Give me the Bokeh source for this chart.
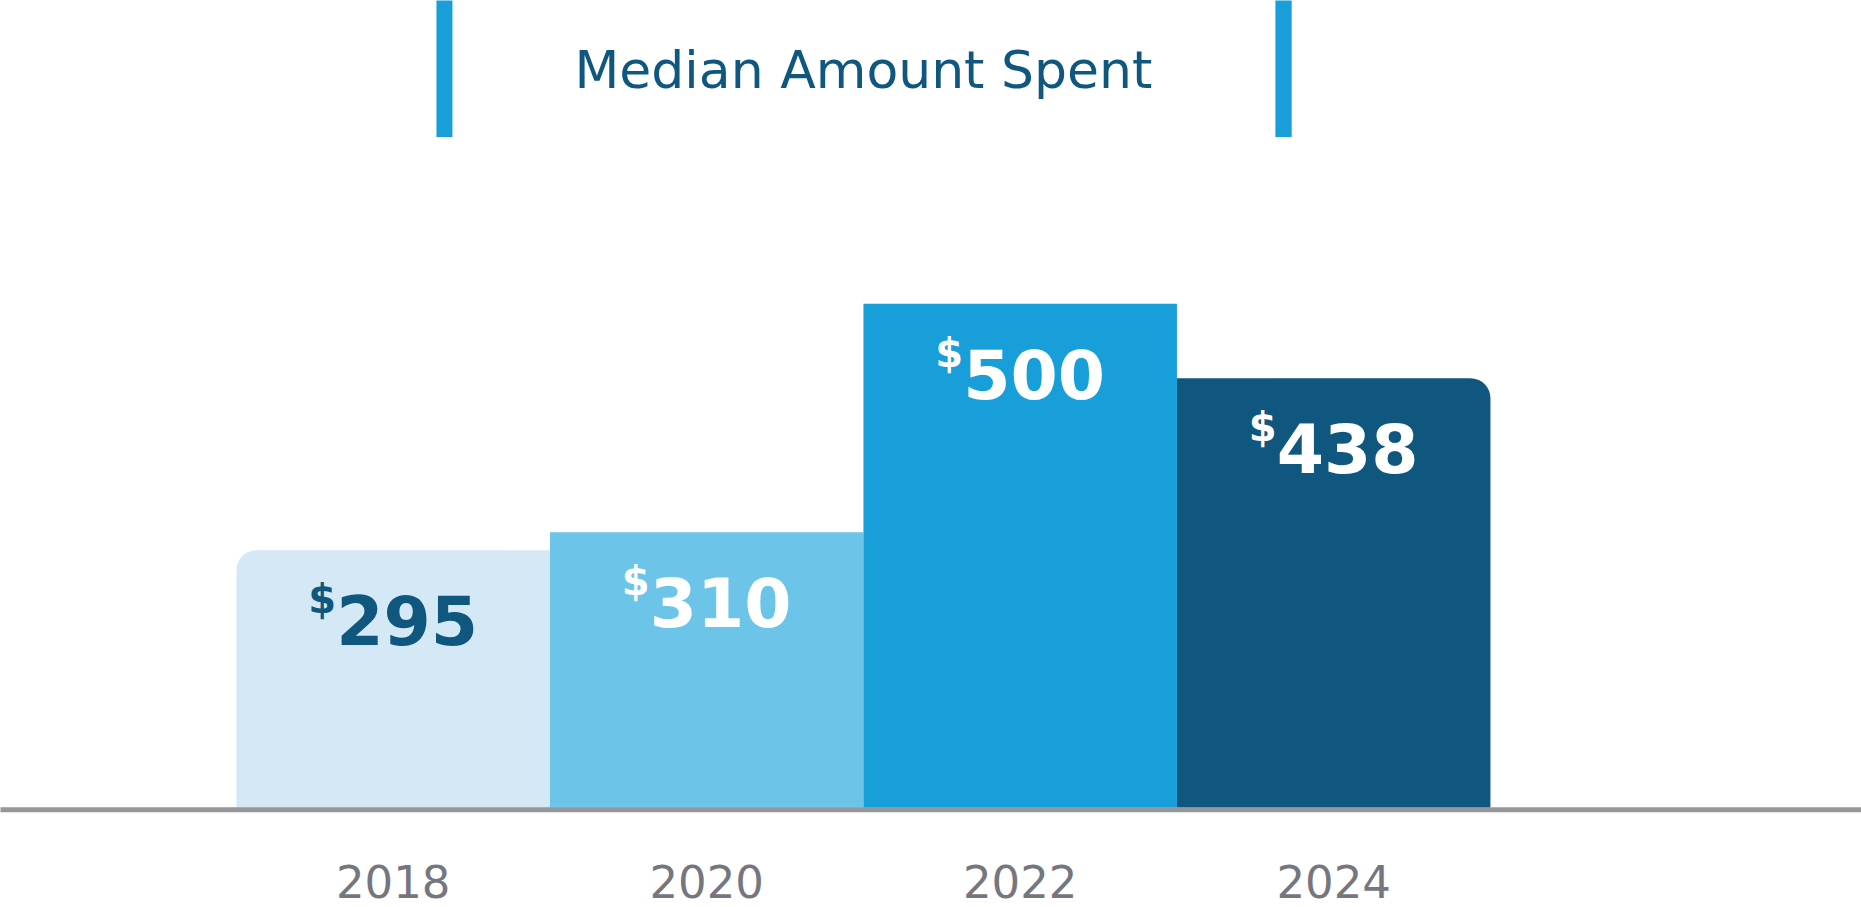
from bokeh.plotting import figure
from bokeh.models import ColumnDataSource, Span, Range1d
from bokeh.embed import file_html
from bokeh.resources import INLINE
from bokeh.core.properties import value

# ---- data ----
years = ["2018", "2020", "2022", "2024"]
amounts = [295, 310, 500, 438]
amount_labels = ["295", "310", "500", "438"]
bar_colors = ["#d4e8f5", "#6cc4e9", "#189fd9", "#10577f"]
label_colors = ["#10577f", "#ffffff", "#ffffff", "#ffffff"]
title_text = "Median Amount Spent"

# ---- layout ----
W, H = 1861, 907
X0 = -1.2526
X1 = X0 + W / 313.5
Y_START, Y_END = -2, 752
BASE = 81
PX = H / (Y_END - Y_START)
FONT = value("DejaVu Sans")

p = figure(width=W, height=H, output_backend="svg", toolbar_location=None,
           x_range=Range1d(X0, X1), y_range=Range1d(Y_START, Y_END),
           min_border=0, outline_line_color=None)
p.axis.visible = False
p.grid.visible = False
p.background_fill_color = "white"
p.border_fill_color = "white"

xs = list(range(len(years)))
src = ColumnDataSource(dict(x=xs, top=amounts, year=years, lab=amount_labels,
                            color=bar_colors, lcolor=label_colors))

# bars (first and last have one rounded corner)
for i in xs:
    rad = 0
    if i == 0:
        rad = (20, 0, 0, 0)
    elif i == len(xs) - 1:
        rad = (0, 20, 0, 0)
    s = ColumnDataSource(dict(x=[xs[i]], top=[amounts[i]], color=[bar_colors[i]]))
    p.vbar(x="x", top="top", bottom=BASE, width=1.0, fill_color="color",
           line_color=None, source=s, border_radius=rad)

# baseline
p.add_layout(Span(location=BASE - 2 / PX, dimension="width", line_color="#96979a",
                  line_width=5, line_cap="round"))

# value labels
p.text(x="x", y="top", text="lab", source=src, text_color="lcolor",
       text_font=FONT, text_font_style="bold", text_font_size="68px",
       text_align="center", text_baseline="alphabetic", x_offset=14, y_offset=70)
p.text(x="x", y="top", text=value("$"), source=src, text_color="lcolor",
       text_font=FONT, text_font_style="bold", text_font_size="40px",
       text_align="right", text_baseline="alphabetic", x_offset=-57, y_offset=49)

# year labels
p.text(x="x", y=BASE, text="year", source=src, text_color="#76767f",
       text_font=FONT, text_font_style="normal", text_font_size="45px",
       text_align="center", text_baseline="alphabetic", y_offset=74)

# title with decorative bars
p.quad(left=[0.138, 2.814], right=[0.189, 2.866], top=[Y_END + 5, Y_END + 5],
       bottom=[Y_END - 136.5 / PX, Y_END - 136.5 / PX], fill_color="#189fd9",
       line_color=None)
p.text(x=[1.5], y=[Y_END], text=[title_text], text_color="#10577f",
       text_font=FONT, text_font_size="52px", text_align="center",
       text_baseline="alphabetic", y_offset=69)

open("out.html", "w").write(file_html(p, INLINE))
